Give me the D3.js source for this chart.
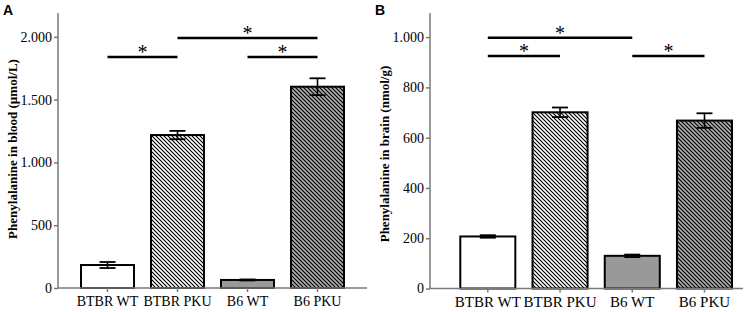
<!DOCTYPE html>
<html>
  <head>
    <meta charset="utf-8">
    <title>Phenylalanine</title>
    <script src="https://cdn.jsdelivr.net/npm/d3@7/dist/d3.min.js"></script>
    <style>
      body { margin: 0; background: #fff; }
      svg { display: block; }
      .tick text { font-family: "Liberation Serif", "Times New Roman", serif; fill: #000; }
      .ylab { font-family: "Liberation Serif", "Times New Roman", serif; font-weight: bold; font-size: 13px; }
      .panel { font-family: "Liberation Sans", Arial, sans-serif; font-weight: bold; font-size: 14px; }
      .star { font-family: "Liberation Serif", "Times New Roman", serif; font-size: 20px; }
    </style>
  </head>
  <body>
    <svg id="chart" width="745" height="312"></svg>

    <script>
      // data
      groups = ["BTBR WT", "BTBR PKU", "B6 WT", "B6 PKU"];
      bloodMeans = [183, 1218, 64, 1603];
      bloodErr = [24, 33, 4, 67];
      brainMeans = [207, 701, 130, 668];
      brainErr = [5, 19, 5, 29];
      bloodTicks = [0, 500, 1000, 1500, 2000];
      brainTicks = [0, 200, 400, 600, 800, 1000];
      // [from group, to group, level]
      bloodSig = [[0, 1, 1840], [1, 3, 1990], [2, 3, 1840]];
      brainSig = [[0, 2, 998], [0, 1, 925], [2, 3, 925]];

      chart = d3.select("#chart");
      defs = chart.append("defs");

      function hatch(id, bg) {
        let p = defs.append("pattern")
          .attr("id", id)
          .attr("patternUnits", "userSpaceOnUse")
          .attr("width", 4)
          .attr("height", 4);
        p.append("rect").attr("width", 4).attr("height", 4).attr("fill", bg);
        p.append("path")
          .attr("d", "M-1,-1L5,5M-1,3L1,5M3,-1L5,1")
          .attr("stroke", "#000")
          .attr("stroke-width", 1.2);
      }
      hatch("hatchWhite", "#fff");
      hatch("hatchGray", "#b0b0b0");

      fills = ["#fff", "url(#hatchWhite)", "#999", "url(#hatchGray)"];
      fmt = d => d3.format(",")(d).replace(",", ".");

      function drawPanel(opt) {
        let x = d3.scaleBand()
          .domain(groups)
          .range(opt.xRange)
          .paddingInner(opt.pad)
          .paddingOuter(opt.pad / 2);
        let y = d3.scaleLinear()
          .domain([0, opt.yMax])
          .range([opt.base, 13]);

        let g = chart.append("g");

        // bars
        g.selectAll(".bar")
          .data(opt.means)
          .enter().append("rect")
            .attr("x", (d, i) => x(groups[i]))
            .attr("y", d => y(d))
            .attr("width", x.bandwidth())
            .attr("height", d => y(0) - y(d))
            .attr("fill", (d, i) => fills[i])
            .attr("stroke", "#000")
            .attr("stroke-width", 2);

        // error bars
        let cx = i => x(groups[i]) + x.bandwidth() / 2;
        opt.means.forEach((m, i) => {
          let e = opt.err[i];
          g.append("line")
            .attr("x1", cx(i)).attr("x2", cx(i))
            .attr("y1", y(m + e)).attr("y2", y(m - e))
            .attr("stroke", "#000").attr("stroke-width", 1.6);
          [m + e, m - e].forEach(v => {
            g.append("line")
              .attr("x1", cx(i) - 8).attr("x2", cx(i) + 8)
              .attr("y1", y(v)).attr("y2", y(v))
              .attr("stroke", "#000").attr("stroke-width", 1.8);
          });
        });

        // significance
        opt.sig.forEach(s => {
          g.append("line")
            .attr("x1", cx(s[0])).attr("x2", cx(s[1]))
            .attr("y1", y(s[2])).attr("y2", y(s[2]))
            .attr("stroke", "#000").attr("stroke-width", 2.5);
          g.append("text")
            .attr("class", "star")
            .attr("x", (cx(s[0]) + cx(s[1])) / 2)
            .attr("y", y(s[2]) + 2)
            .attr("text-anchor", "middle")
            .text("*");
        });

        // axes
        let yAxis = d3.axisLeft(y)
          .tickValues(opt.ticks)
          .tickFormat(fmt)
          .tickSize(4)
          .tickPadding(2);
        let ya = g.append("g")
          .attr("transform", "translate(" + opt.x0 + ",0)")
          .call(yAxis);
        ya.select(".domain").attr("d", "M0," + y(0) + "V13");
        ya.selectAll("text")
          .style("font-family", "'Liberation Serif', serif")
          .style("font-size", "14px");

        let xAxis = d3.axisBottom(x)
          .tickSize(4)
          .tickPadding(4);
        let xa = g.append("g")
          .attr("transform", "translate(0," + y(0) + ")")
          .call(xAxis);
        xa.select(".domain").attr("d", "M" + opt.x0 + ",0H" + opt.x1);
        xa.selectAll("text")
          .style("font-family", "'Liberation Serif', serif")
          .style("font-size", opt.xFont + "px");

        g.selectAll(".domain, .tick line")
          .attr("stroke", "#7a7a7a")
          .attr("stroke-width", 1.5);

        g.append("text")
          .attr("class", "ylab")
          .attr("transform", "translate(" + opt.labX + "," + opt.labY + ") rotate(-90)")
          .attr("text-anchor", "middle")
          .text(opt.label);

        g.append("text")
          .attr("class", "panel")
          .attr("x", opt.panelX)
          .attr("y", 15)
          .text(opt.panel);
      }

      drawPanel({
        means: bloodMeans, err: bloodErr, sig: bloodSig, ticks: bloodTicks,
        yMax: 2190, base: 288, xRange: [72.5, 352.5], pad: 0.243, xFont: 14,
        x0: 58, x1: 367, label: "Phenylalanine in blood (µmol/L)",
        labX: 17, labY: 149, panel: "A", panelX: 3
      });

      drawPanel({
        means: brainMeans, err: brainErr, sig: brainSig, ticks: brainTicks,
        yMax: 1096, base: 288.5, xRange: [451.7, 740.6], pad: 0.238, xFont: 15,
        x0: 430, x1: 743, label: "Phenylalanine in brain (nmol/g)",
        labX: 389, labY: 154, panel: "B", panelX: 375
      });
    </script>
  </body>
</html>
